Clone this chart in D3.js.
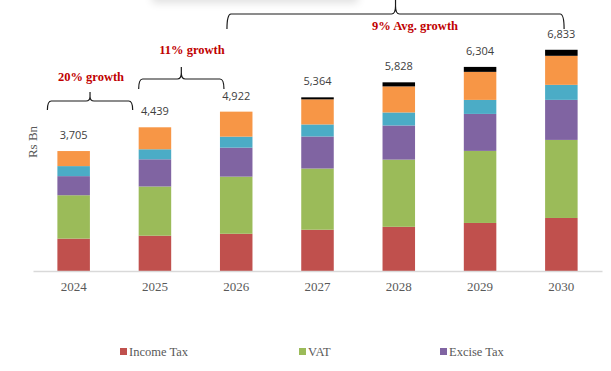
<!DOCTYPE html>
<html>
<head>
<meta charset="utf-8">
<script src="https://cdn.jsdelivr.net/npm/d3@7"></script>
<style>
    body { margin: 0; background: #fff; }
    svg { display: block; }
</style>
</head>
<body>
<script>
(function(){

    //chart values (Rs Bn)
    var years = ["2024", "2025", "2026", "2027", "2028", "2029", "2030"];
    var incomeTax = [1000, 1090, 1150, 1275, 1365, 1484, 1638];
    var vat       = [1340, 1520, 1765, 1890, 2075, 2226, 2411];
    var exciseTax = [590,  840,  895,  990,  1055, 1142, 1237];
    var customs   = [310,  310,  340,  372,  402,  433,  464];
    var otherTax  = [465,  679,  772,  775,  805,  866,  897];
    var otherRev  = [0,    0,    0,    62,   126,  153,  186];
    var totals    = [3705, 4439, 4922, 5364, 5828, 6304, 6833];

    var seriesNames = ["Income Tax", "VAT", "Excise Tax", "Customs", "Other Tax", "Other"];
    var seriesValues = [incomeTax, vat, exciseTax, customs, otherTax, otherRev];
    var seriesColors = ["#c0504d", "#9bbb59", "#8064a2", "#4bacc6", "#f79646", "#000000"];
    var legendNames = ["Income Tax", "VAT", "Excise Tax"];

    //growth annotations: which bars the brace spans
    var braceFrom  = ["2024", "2025", "2026"];
    var braceTo    = ["2025", "2026", "2030"];
    var braceText  = ["20% growth", "11% growth", "9% Avg. growth"];

    var width = 611, height = 371;

    var svg = d3.select("body")
        .append("svg")
        .attr("width", width)
        .attr("height", height);

    //faint shadow of a text box sitting above the frame
    var defs = svg.append("defs");
    defs.append("filter")
        .attr("id", "blur")
        .attr("x", "-20%").attr("y", "-50%")
        .attr("width", "140%").attr("height", "200%")
        .append("feGaussianBlur")
        .attr("stdDeviation", 4);
    svg.append("rect")
        .attr("x", 152).attr("y", -30)
        .attr("width", 206).attr("height", 33)
        .attr("fill", "#000")
        .attr("opacity", 0.12)
        .attr("filter", "url(#blur)");

    //build table for the stack
    var table = years.map(function(y, i) {
        var row = { year: y };
        seriesNames.forEach(function(name, s) {
            row[name] = seriesValues[s][i];
        });
        return row;
    });

    var stack = d3.stack().keys(seriesNames);
    var layers = stack(table);

    var x = d3.scaleBand()
        .domain(years)
        .range([33, 602])
        .paddingInner(0.6)
        .paddingOuter(0.3);

    var y = d3.scaleLinear()
        .domain([0, 8000])
        .range([271, 12]);

    var color = d3.scaleOrdinal()
        .domain(seriesNames)
        .range(seriesColors);

    //bars
    svg.selectAll(".layer")
        .data(layers)
        .enter()
        .append("g")
        .attr("class", "layer")
        .attr("fill", function(d) { return color(d.key); })
        .selectAll("rect")
        .data(function(d) { return d; })
        .enter()
        .append("rect")
        .attr("x", function(d) { return x(d.data.year); })
        .attr("width", x.bandwidth())
        .attr("y", function(d) { return y(d[1]); })
        .attr("height", function(d) { return y(d[0]) - y(d[1]); });

    //x axis
    var xAxis = svg.append("g")
        .attr("transform", "translate(0," + y(0) + ")")
        .call(d3.axisBottom(x).tickSize(0).tickPadding(10));
    xAxis.select(".domain").attr("stroke", "#d9d9d9").attr("stroke-width", 1.3);
    xAxis.selectAll("text")
        .attr("font-family", "'Liberation Serif', serif")
        .attr("font-size", 13)
        .attr("fill", "#595959")
        .attr("dy", "0.75em");

    //total labels
    svg.selectAll(".total")
        .data(totals)
        .enter()
        .append("text")
        .attr("class", "total")
        .attr("x", function(d, i) { return x(years[i]) + x.bandwidth() / 2; })
        .attr("y", function(d) { return y(d) - 12; })
        .attr("text-anchor", "middle")
        .attr("font-family", "'Open Sans', sans-serif")
        .attr("font-size", 11)
        .attr("fill", "#404040")
        .text(function(d) { return d3.format(",")(d); });

    //y axis title
    svg.append("text")
        .attr("transform", "translate(37,142) rotate(-90)")
        .attr("text-anchor", "middle")
        .attr("font-family", "'Liberation Serif', serif")
        .attr("font-size", 13)
        .attr("fill", "#595959")
        .text("Rs Bn");

    //braces: left/right x, bar line y, end drop, tip y, tip x
    var braceGeom = [
        { x0: x(braceFrom[0]) - 10, x1: x(braceTo[0]) - 6, y: 101, drop: 9, tip: 92, tx: 91, ty: 81 },
        { x0: x(braceFrom[1]),      x1: x(braceTo[1]) + 4, y: 79,  drop: 10, tip: 67, tx: 192, ty: 54 },
        { x0: x(braceFrom[2]) + 7,  x1: x(braceTo[2]) + 19, y: 14, drop: 15, tip: -2, tx: 415, ty: 30 }
    ];

    braceGeom.forEach(function(b, i) {
        var mid = (b.x0 + b.x1) / 2;
        var r = 4;
        var p = d3.path();
        p.moveTo(b.x0, b.y + b.drop);
        p.quadraticCurveTo(b.x0, b.y, b.x0 + r, b.y);
        p.lineTo(mid - r, b.y);
        p.quadraticCurveTo(mid, b.y, mid, b.tip + (b.y - b.tip) / 2);
        p.lineTo(mid, b.tip);
        p.moveTo(mid, b.tip + (b.y - b.tip) / 2);
        p.quadraticCurveTo(mid, b.y, mid + r, b.y);
        p.lineTo(b.x1 - r, b.y);
        p.quadraticCurveTo(b.x1, b.y, b.x1, b.y + b.drop);

        svg.append("path")
            .attr("d", p.toString())
            .attr("fill", "none")
            .attr("stroke", "#1a1a1a")
            .attr("stroke-width", 1.2);

        svg.append("text")
            .attr("x", b.tx)
            .attr("y", b.ty)
            .attr("text-anchor", "middle")
            .attr("font-family", "'Liberation Serif', serif")
            .attr("font-weight", "bold")
            .attr("font-size", 12.5)
            .attr("fill", "#c00000")
            .text(braceText[i]);
    });

    //legend
    var legendX = [120, 299, 440];
    var legend = svg.selectAll(".legend")
        .data(legendNames)
        .enter()
        .append("g")
        .attr("class", "legend")
        .attr("transform", function(d, i) { return "translate(" + legendX[i] + ",348)"; });

    legend.append("rect")
        .attr("width", 7)
        .attr("height", 7)
        .attr("fill", function(d) { return color(d); });

    legend.append("text")
        .attr("x", 9)
        .attr("y", 8)
        .attr("font-family", "'Liberation Serif', serif")
        .attr("font-size", 12.5)
        .attr("fill", "#595959")
        .text(function(d) { return d; });
})();
</script>
</body>
</html>
